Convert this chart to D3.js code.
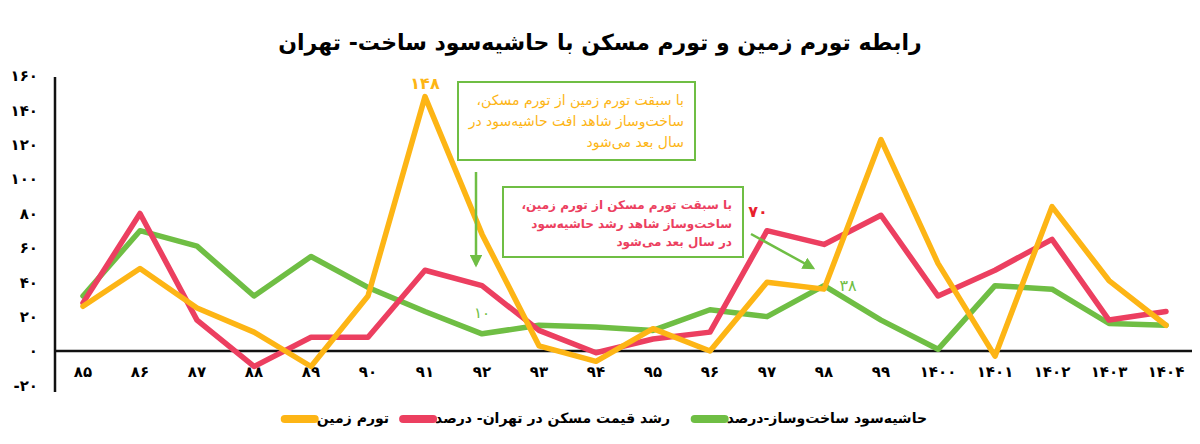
<!DOCTYPE html>
<html>
  <head>
    <meta charset="utf-8">
    <script type="text/javascript" src="https://cdn.jsdelivr.net/npm/d3@7"></script>
    <style>
      body { margin: 0; background: #fff; }
      text { font-family: "DejaVu Sans", sans-serif; }
    </style>
  </head>
  <body>
    <script type="text/javascript">

var years = ["۸۵","۸۶","۸۷","۸۸","۸۹","۹۰","۹۱","۹۲","۹۳","۹۴","۹۵","۹۶","۹۷","۹۸","۹۹","۱۴۰۰","۱۴۰۱","۱۴۰۲","۱۴۰۳","۱۴۰۴"];
var land   = [26, 48, 25, 11, -9, 32, 148, 68, 3, -6, 13, 0, 40, 36, 123, 51, -3, 84, 41, 15];
var house  = [28, 80, 18, -9, 8, 8, 47, 38, 12, -1, 7, 11, 70, 62, 79, 32, 47, 65, 18, 23];
var margin = [32, 70, 61, 32, 55, 37, 23, 10, 15, 14, 12, 24, 20, 38, 18, 1, 38, 36, 16, 15];
var yTicks = [-20, 0, 20, 40, 60, 80, 100, 120, 140, 160];

var seriesNames = ["تورم زمین", "رشد قیمت مسکن در تهران- درصد", "حاشیه‌سود ساخت‌وساز-درصد"];
var colors = ["#fdb515", "#ec3f60", "#6fbe44"];

var w = 1200;
var h = 444;

function fa(n) {
  var s = String(Math.abs(n)).replace(/\d/g, function(d) { return "۰۱۲۳۴۵۶۷۸۹"[d]; });
  return n < 0 ? "-" + s : s;
}

var svg =
  d3.select("body")
    .append("svg")
    .attr("width", w)
    .attr("height", h);

var defs = svg.append("defs");
defs.append("marker")
    .attr("id", "arrow")
    .attr("viewBox", "0 0 10 10")
    .attr("refX", 8).attr("refY", 5)
    .attr("markerWidth", 5).attr("markerHeight", 5)
    .attr("orient", "auto")
  .append("path")
    .attr("d", "M0,0 L10,5 L0,10 z")
    .style("fill", colors[2]);

var x = d3.scalePoint()
    .domain(years)
    .range([54.5, 1194.5])
    .padding(0.5);

var y = d3.scaleLinear()
    .domain([-20, 160])
    .range([385.4, 76]);

// title
svg.append("text")
    .attr("x", 600)
    .attr("y", 50)
    .attr("text-anchor", "middle")
    .style("font-size", "22px")
    .style("font-weight", "bold")
    .text("رابطه تورم زمین و تورم مسکن با حاشیه‌سود ساخت- تهران");

// y labels
svg.selectAll(".ylab")
    .data(yTicks)
    .enter()
    .append("text")
    .attr("class", "ylab")
    .attr("x", 38)
    .attr("y", function(d) { return y(d); })
    .attr("dy", "0.35em")
    .attr("text-anchor", "end")
    .attr("direction", "ltr")
    .style("font-size", "15px")
    .style("font-weight", "bold")
    .text(function(d) { return fa(d); });

// x labels
svg.selectAll(".xlab")
    .data(years)
    .enter()
    .append("text")
    .attr("class", "xlab")
    .attr("x", function(d) { return x(d); })
    .attr("y", 372)
    .attr("dy", "0.35em")
    .attr("text-anchor", "middle")
    .style("font-size", "15px")
    .style("font-weight", "bold")
    .text(function(d) { return d; });

// axis lines
svg.append("line")
    .attr("x1", 55).attr("x2", 1192)
    .attr("y1", y(0)).attr("y2", y(0))
    .style("stroke", "#111").style("stroke-width", 2.5);
svg.append("line")
    .attr("x1", 55).attr("x2", 55)
    .attr("y1", 77).attr("y2", 392)
    .style("stroke", "#111").style("stroke-width", 2.5);

// series lines
var line = d3.line()
    .x(function(d, i) { return x(years[i]); })
    .y(function(d) { return y(d); });

[margin, house, land].forEach(function(s, k) {
  var c = [colors[2], colors[1], colors[0]][k];
  svg.append("path")
      .datum(s)
      .attr("d", line)
      .style("fill", "none")
      .style("stroke", c)
      .style("stroke-width", 5.5)
      .style("stroke-linejoin", "round")
      .style("stroke-linecap", "round");
});

// value labels
svg.append("text")
    .attr("x", x("۹۱")).attr("y", y(148) - 8)
    .attr("text-anchor", "middle")
    .style("font-size", "16px").style("font-weight", "bold")
    .style("fill", colors[0])
    .text(fa(148));
svg.append("text")
    .attr("x", x("۹۷") - 9).attr("y", y(70) - 14)
    .attr("text-anchor", "middle")
    .style("font-size", "16px").style("font-weight", "bold")
    .style("fill", "#e8202c")
    .text(fa(70));
svg.append("text")
    .attr("x", x("۹۲")).attr("y", y(10) - 16)
    .attr("text-anchor", "middle")
    .style("font-size", "15px")
    .style("fill", colors[2])
    .text(fa(10));
svg.append("text")
    .attr("x", x("۹۸") + 24).attr("y", y(38) + 5)
    .attr("text-anchor", "middle")
    .style("font-size", "16px")
    .style("fill", colors[2])
    .text(fa(38));

// annotation boxes
function note(x0, y0, bw, bh, lines, color, lh, fs, weight) {
  svg.append("rect")
      .attr("x", x0).attr("y", y0)
      .attr("width", bw).attr("height", bh)
      .style("fill", "#fff")
      .style("stroke", colors[2])
      .style("stroke-width", 2);
  svg.selectAll(null)
      .data(lines)
      .enter()
      .append("text")
      .attr("x", x0 + bw - 11)
      .attr("y", function(d, i) { return y0 + 18 + i * lh; })
      .attr("dy", "0.35em")
      .attr("direction", "rtl")
      .attr("text-anchor", "start")
      .style("font-size", fs + "px")
      .style("font-weight", weight)
      .style("fill", color)
      .text(function(d) { return d; });
}

note(458, 82, 237, 78,
  ["با سبقت تورم زمین از تورم مسکن،", "ساخت‌وساز شاهد افت حاشیه‌سود در", "سال بعد می‌شود"],
  colors[0], 21, 14, "normal");

note(503, 187, 240, 70,
  ["با سبقت تورم مسکن از تورم زمین،", "ساخت‌وساز شاهد رشد حاشیه‌سود", "در سال بعد می‌شود"],
  colors[1], 18.5, 12, "bold");

// arrows
svg.append("line")
    .attr("x1", 476).attr("y1", 172).attr("x2", 476).attr("y2", 265)
    .style("stroke", colors[2]).style("stroke-width", 2.5)
    .attr("marker-end", "url(#arrow)");
svg.append("line")
    .attr("x1", 751).attr("y1", 234).attr("x2", 813).attr("y2", 268)
    .style("stroke", colors[2]).style("stroke-width", 2.5)
    .attr("marker-end", "url(#arrow)");

// legend
var legend = [
  { name: seriesNames[2], color: colors[2], x: 927 },
  { name: seriesNames[1], color: colors[1], x: 670 },
  { name: seriesNames[0], color: colors[0], x: 389 }
];
legend.forEach(function(d) {
  var t = svg.append("text")
      .attr("x", d.x).attr("y", 418)
      .attr("dy", "0.35em")
      .attr("direction", "rtl")
      .attr("text-anchor", "start")
      .style("font-size", "14px")
      .style("font-weight", "bold")
      .text(d.name);
  var bb = t.node().getBBox();
  svg.append("line")
      .attr("x1", bb.x - 32).attr("x2", bb.x - 2)
      .attr("y1", 419).attr("y2", 419)
      .style("stroke", d.color)
      .style("stroke-width", 8)
      .style("stroke-linecap", "round");
});

    </script>
  </body>
</html>
